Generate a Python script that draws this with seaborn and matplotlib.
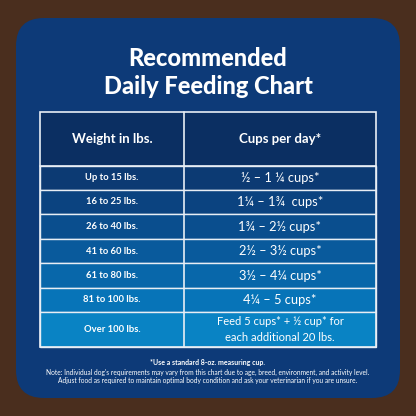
import matplotlib
matplotlib.use("Agg")
import matplotlib.pyplot as plt
import seaborn as sns
from matplotlib.patches import FancyBboxPatch, Rectangle

sns.set_theme(style="white")
plt.rcParams['font.family'] = ['Lato', 'DejaVu Sans']

title_lines = ["Recommended", "Daily Feeding Chart"]
col_headers = ["Weight in lbs.", "Cups per day*"]
weights = ["Up to 15 lbs.", "16 to 25 lbs.", "26 to 40 lbs.", "41 to 60 lbs.",
           "61 to 80 lbs.", "81 to 100 lbs.", "Over 100 lbs."]
cups = ["½ – 1 ¼ cups*", "1¼ – 1¾  cups*", "1¾ – 2½ cups*", "2½ – 3½ cups*",
        "3½ – 4¼ cups*", "4¼ – 5 cups*", "Feed 5 cups* + ½ cup* for\neach additional 20 lbs."]
row_colors = ["#0c3a73", "#0b4380", "#0a4e8e", "#095a9c", "#0867aa", "#0774b8", "#0983c4"]
footnotes = ["*Use a standard 8-oz. measuring cup.",
             "Note: Individual dog's requirements may vary from this chart due to age, breed, environment, and activity level.",
             "Adjust food as required to maintain optimal body condition and ask your veterinarian if you are unsure."]

fig = plt.figure(figsize=(4.16, 4.16), dpi=100)
ax = fig.add_axes([0, 0, 1, 1])
ax.set_xlim(0, 416); ax.set_ylim(416, 0); ax.axis("off")
fig.patch.set_facecolor("#4a2e1e")

ax.add_patch(FancyBboxPatch((16, 18), 384, 380, boxstyle="round,pad=0,rounding_size=28",
                            fc="#0d3a78", ec="none"))
ax.text(208, 58, title_lines[0], ha="center", va="center", color="white", fontsize=17, fontweight="black")
ax.text(208, 87, title_lines[1], ha="center", va="center", color="white", fontsize=17, fontweight="black")

L, M, R = 40, 184, 376
top, hdr = 112, 166
row_tops = [166, 190, 214, 239, 263, 288, 312]
row_h = [24, 24, 25, 24, 25, 24, 35]

ax.add_patch(Rectangle((L, top), R - L, hdr - top, fc="#0b2f62", ec="none"))
ax.text((L + M) / 2, (top + hdr) / 2, col_headers[0], ha="center", va="center", color="white", fontsize=9.5, fontweight="bold")
ax.text((M + R) / 2, (top + hdr) / 2, col_headers[1], ha="center", va="center", color="white", fontsize=9.5, fontweight="bold")

centers = [t + h / 2 for t, h in zip(row_tops, row_h)]
ax.barh(centers, [R - L] * len(weights), height=row_h, left=L, color=row_colors,
        edgecolor="#e8eef5", linewidth=1)
for c, w, cp in zip(centers, weights, cups):
    ax.text((L + M) / 2, c, w, ha="center", va="center", color="white", fontsize=6.8, fontweight="bold")
    ax.text((M + R) / 2, c, cp, ha="center", va="center", color="white", fontsize=9.3 if "\n" not in cp else 8,
            linespacing=1.45)
ax.add_patch(Rectangle((L, top), R - L, 347 - top, fc="none", ec="#e8eef5", lw=1.2))
ax.plot([M, M], [top, 347], color="#e8eef5", lw=1.2)
ax.plot([L, R], [hdr, hdr], color="#e8eef5", lw=1.2)

ax.text(208, 363, footnotes[0], ha="center", va="center", color="white", fontsize=5, fontweight="bold")
ax.text(208, 372, footnotes[1], ha="center", va="center", color="white", fontsize=4.8)
ax.text(208, 381, footnotes[2], ha="center", va="center", color="white", fontsize=4.8)

fig.savefig("out.png", dpi=100, facecolor=fig.get_facecolor())
